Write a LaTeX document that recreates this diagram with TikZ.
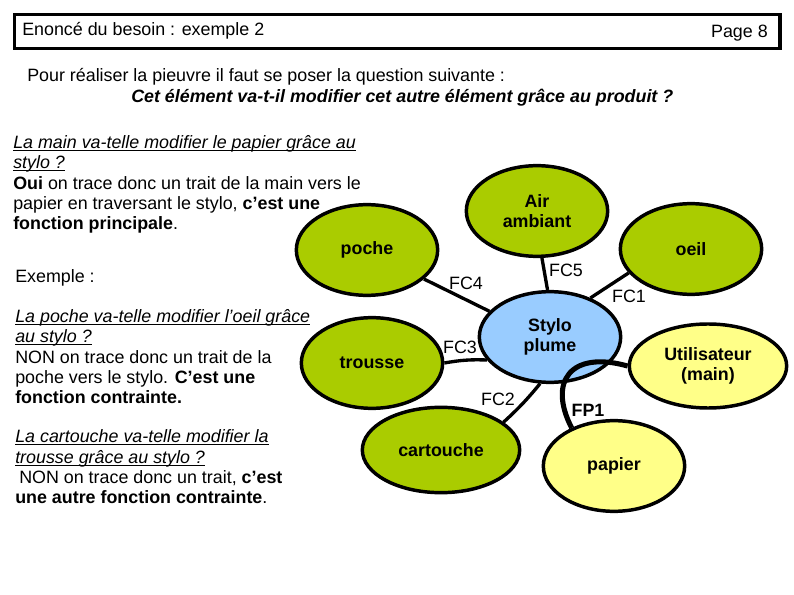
\documentclass[tikz,border=0pt]{standalone}
\usepackage{fontspec}
\setmainfont{Liberation Sans}
\usetikzlibrary{shapes.geometric, positioning}
\definecolor{elemgreen}{HTML}{AACC00}
\definecolor{styloblue}{HTML}{99CCFF}
\definecolor{useryellow}{HTML}{FFFF88}
\newcommand{\qline}[1]{\setbox0\hbox{#1}\rlap{\rule[-1.8pt]{\wd0}{0.6pt}}\box0}
\tikzset{
  elemnode/.style={
    ellipse,
    draw=black,
    fill=elemgreen,
    line width=2.6pt,
    align=center,
    font=\bfseries\fontsize{13.4}{15}\selectfont,
    inner sep=1pt,
    minimum width=106pt,
    minimum height=68pt
  },
  stylonode/.style={elemnode, fill=styloblue},
  usernode/.style={elemnode, fill=useryellow},
  fcline/.style={line width=2.5pt},
  fpline/.style={line width=3.8pt},
  fclabel/.style={font=\fontsize{13.4}{15}\selectfont, inner sep=0pt},
  bodytext/.style={
    anchor=base west,
    align=left,
    inner sep=0pt,
    font=\fontsize{13.4}{15.3}\selectfont
  }
}
\begin{document}
\begin{tikzpicture}[x=0.75pt, y=-0.75pt]
  \useasboundingbox (0,0) rectangle (794,595);

  % Title bar
  \node (titlebar) [draw, line width=2.6pt, anchor=north west, minimum width=574pt, minimum height=25.5pt, inner sep=0pt] at (13,13) {};
  \node (title) [bodytext] at (22,36) {Enoncé du besoin : exemple 2};
  \node (page) [bodytext, anchor=base east] at (768,38) {Page 8};

  % Question
  \node (intro) [bodytext] at (27,82) {Pour réaliser la pieuvre il faut se poser la question suivante :};
  \node (rule) [bodytext, font=\bfseries\itshape\fontsize{13.4}{15.3}\selectfont] at (131,103) {Cet élément va-t-il modifier cet autre élément grâce au produit ?};

  % Explanations (base = last line)
  \node (expl1) [bodytext] at (13,230) {\qline{\textit{La main va-telle modifier le papier grâce au}}\\
    \qline{\textit{stylo ?}}\\
    \textbf{Oui} on trace donc un trait de la main vers le\\
    papier en traversant le stylo, \textbf{c’est une}\\
    \textbf{fonction principale}.};
  \node (exemple) [bodytext] at (15,283) {Exemple :};
  \node (expl2) [bodytext] at (15,404) {\qline{\textit{La poche va-telle modifier l’oeil grâce}}\\
    \qline{\textit{au stylo ?}}\\
    NON on trace donc un trait de la\\
    poche vers le stylo. \textbf{C’est une}\\
    \textbf{fonction contrainte.}};
  \node (expl3) [bodytext] at (15,504) {\qline{\textit{La cartouche va-telle modifier la}}\\
    \qline{\textit{trousse grâce au stylo ?}}\\
    \hspace{3pt}NON on trace donc un trait, \textbf{c’est}\\
    \textbf{une autre fonction contrainte}.};

  % Pieuvre
  \node (stylo) [stylonode] at (550,337) {Stylo\\plume};
  \node (poche) [elemnode] at (367,250) {poche};
  \node (air) [elemnode] at (537,211) {Air\\ambiant};
  \node (oeil) [elemnode] at (691,249) {oeil};
  \node (trousse) [elemnode] at (372,363) {trousse};
  \node (cartouche) [elemnode, minimum width=118pt, minimum height=64pt] at (441,450) {cartouche};
  \node (user) [usernode, minimum width=118pt, minimum height=63pt] at (708,366) {Utilisateur\\(main)};
  \node (papier) [usernode] at (614,466) {papier};

  % Connectors
  \draw [fcline] (poche.-27) -- (stylo.157);
  \draw [fcline] (air.-84) -- (stylo.93);
  \draw [fcline] (oeil.201) -- (stylo.44);
  \draw [fcline] (trousse.east) to[bend left=6] (stylo.200);
  \draw [fcline] (stylo.258) to[bend left=4] (cartouche.24);
  \draw [fpline] (user.west) .. controls (570,350) and (548,382) .. (papier.138);

  % Labels
  \node (fc4) [fclabel] at (466,283) {FC4};
  \node (fc5) [fclabel] at (566,270) {FC5};
  \node (fc1) [fclabel] at (629,296) {FC1};
  \node (fc3) [fclabel] at (460,347) {FC3};
  \node (fc2) [fclabel] at (498,399) {FC2};
  \node (fp1) [fclabel, font=\bfseries\fontsize{13.4}{15}\selectfont] at (588,410) {FP1};

\end{tikzpicture}
\end{document}
